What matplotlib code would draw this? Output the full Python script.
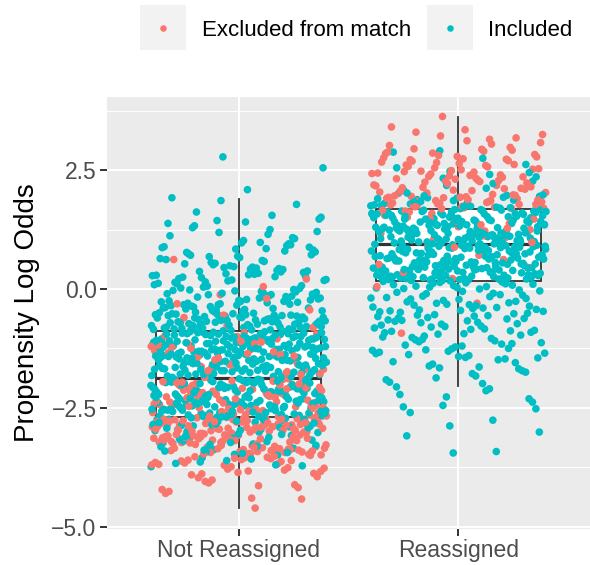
import numpy as np
import matplotlib
matplotlib.use("Agg")
import matplotlib.pyplot as plt
from matplotlib.patches import Rectangle
from matplotlib.lines import Line2D
from matplotlib.ticker import FixedLocator

plt.rcParams['font.family'] = ['Liberation Sans', 'DejaVu Sans']

# ---------------- data ----------------
categories = ["Not Reassigned", "Reassigned"]
groups = ["Excluded from match", "Included"]
group_colors = ["#F8766D", "#00BFC4"]

# Not Reassigned, Included
nr_included = [
    2.78, 2.55, 2.09,
    1.92, 1.55, 1.62, 1.78, 1.86, 1.51,
    1.41, 1.12, 1.25, 1.33, 1.06, 1.19, 1.47, 1.02, 1.38, 1.15, 1.29, 1.08, 1.44, 1.21,
    0.97, 0.62, 0.85, 0.71, 0.93, 0.54, 0.78, 0.66, 0.89, 0.58, 0.74, 0.95, 0.51, 0.82,
    0.69, 0.87, 0.6, 0.77, 0.91, 0.56, 0.72, 0.84, 0.64, 0.98, 0.53, 0.8, 0.68, 0.88,
    0.47, 0.12, 0.33, 0.25, 0.41, 0.06, 0.38, 0.19, 0.29, 0.44, 0.02, 0.36, 0.15, 0.27,
    0.49, 0.09, 0.31, 0.22, 0.43, 0.04, 0.35, 0.17, 0.28, 0.46, 0.11, 0.39, 0.24, 0.07,
    0.32, 0.2, 0.42, 0.14, 0.26, 0.37, 0.01, 0.45, 0.18, 0.3,
    -0.03, -0.41, -0.17, -0.28, -0.09, -0.46, -0.22, -0.35, -0.12, -0.49, -0.06, -0.31,
    -0.19, -0.43, -0.25, -0.14, -0.38, -0.01, -0.33, -0.21, -0.47, -0.1, -0.29, -0.36,
    -0.15, -0.44, -0.07, -0.26, -0.39, -0.18, -0.02, -0.32, -0.48, -0.13, -0.24, -0.4,
    -0.08, -0.3, -0.2, -0.45, -0.11, -0.34, -0.27, -0.05, -0.42, -0.16, -0.37, -0.23,
    -0.04, -0.5, -0.19, -0.33, -0.26, -0.12, -0.4,
    -0.52, -0.61, -0.74, -0.83, -0.56, -0.68, -0.79, -0.87, -0.54, -0.65, -0.71, -0.8,
    -0.58, -0.63, -0.76, -0.85, -0.51, -0.69, -0.72, -0.82, -0.59, -0.66, -0.77, -0.86,
    -0.53, -0.62, -0.73, -0.81, -0.57, -0.67, -0.78, -0.84, -0.55, -0.64, -0.7, -0.88,
    -0.6, -0.75, -0.52, -0.69, -0.83, -0.57, -0.66, -0.79, -0.54, -0.71, -0.86, -0.61,
    -0.74, -0.58, -0.68, -0.81, -0.56, -0.63, -0.77, -0.85, -0.53, -0.72, -0.6, -0.8,
    -0.65, -0.87, -0.55, -0.7, -0.76, -0.59, -0.82, -0.67, -0.73, -0.84,
    -0.91, -1.34, -1.12, -1.67, -0.98, -1.45, -1.23, -1.78, -1.05, -1.56,
    -1.29, -0.94, -1.71, -1.38, -1.15, -1.82, -1.01, -1.49, -1.26, -1.63,
    -0.89, -1.41, -1.19, -1.74, -1.08, -1.52, -1.33, -1.86, -0.96, -1.6,
    -1.22, -1.69, -1.03, -1.47, -1.27, -1.8, -0.93, -1.36, -1.17, -1.58,
    -1.1, -1.43, -1.31, -1.76, -1.0, -1.54, -1.25, -1.65, -0.97, -1.39,
    -1.14, -1.72, -1.06, -1.5, -1.2, -1.84, -0.92, -1.44, -1.28, -1.61,
    -1.04, -1.37, -1.16, -1.79, -0.99, -1.53, -1.24, -1.68, -1.09, -1.42,
    -1.32, -1.75, -0.95, -1.57, -1.21, -1.83, -1.07, -1.46, -1.3, -1.64,
    -1.02, -1.35, -1.18, -1.73, -0.9, -1.51, -1.26, -1.7, -1.11, -1.4,
    -1.33, -1.81, -0.94, -1.59, -1.23, -1.66, -1.05, -1.48, -1.13, -1.77,
    -0.98, -1.37, -1.28, -1.62, -1.01, -1.55, -1.19, -1.85, -1.08, -1.44,
    -1.3, -1.71, -0.93, -1.5, -1.15, -1.67, -1.03, -1.41, -1.25, -1.79,
    -0.96, -1.34, -1.22, -1.58, -1.12, -1.47, -1.36, -1.74, -0.91, -1.63,
    -1.17, -1.82, -1.06, -1.43, -1.27, -1.69, -1.0, -1.52, -1.21, -1.76,
    -0.97, -1.39, -1.31, -1.6, -1.09, -1.45, -1.14, -1.86, -1.04, -1.56,
    -1.24, -1.72, -0.92, -1.38, -1.18, -1.65, -1.07, -1.49, -1.29, -1.8,
    -0.99, -1.42, -1.11, -1.57, -1.02, -1.35, -1.26, -1.73, -0.95, -1.61,
    -1.2, -1.84, -1.1, -1.46, -1.32, -1.68, -0.9, -1.53, -1.16, -1.78,
    -1.05, -1.4, -1.23, -1.64, -0.94, -1.5, -1.28, -1.75, -1.13, -1.44,
    -1.92, -2.35, -2.14, -2.61, -1.98, -2.43, -2.22, -2.68, -2.05, -2.5,
    -2.28, -1.95, -2.57, -2.17, -2.39, -2.02, -2.64, -2.25, -1.9, -2.47,
    -2.11, -2.54, -2.31, -1.97, -2.66, -2.19, -2.42, -2.07, -2.59, -2.26,
    -1.94, -2.37, -2.13, -2.69, -2.03, -2.45, -2.21, -2.56, -1.99, -2.33,
    -2.09, -2.62, -2.29, -1.91, -2.49, -2.16, -2.4, -2.04, -2.67, -2.24,
    -1.96, -2.52, -2.12, -2.36, -2.0, -2.58, -2.27, -1.88, -2.44, -2.18,
    -2.63, -2.08, -2.34, -1.93, -2.55, -2.23, -2.46, -2.01, -2.7, -2.15,
    -2.38, -1.97, -2.6, -2.3, -2.06, -2.48, -2.2, -1.89, -2.53, -2.1,
    -2.65, -2.32, -1.95, -2.41, -2.17, -2.57, -2.02, -2.44, -2.26, -1.92,
    -2.51, -2.13, -2.67, -2.35, -1.99, -2.47, -2.22, -2.61, -2.05, -2.39,
    -1.9, -2.55, -2.19, -2.43, -2.09, -2.64, -2.28, -1.94, -2.5, -2.15,
    -2.36, -2.03, -2.59, -2.24, -1.98, -2.45, -2.11, -2.68, -2.31, -2.07,
    -2.53, -1.96, -2.4, -2.18, -2.62, -2.01, -2.33, -2.56, -2.14, -1.91,
    -2.48, -2.25, -2.66, -2.04, -2.37, -1.93, -2.58, -2.21, -2.42, -2.1,
    -2.69, -2.29, -1.97, -2.52, -2.16, -2.38, -2.06, -2.6, -2.27, -2.46,
    -2.74, -3.12, -2.88, -3.35, -2.79, -3.02, -3.46, -2.93, -3.21, -2.71,
    -3.08, -2.84, -3.29, -2.97, -3.41, -2.76, -3.15, -2.9, -3.38, -2.82,
    -3.05, -3.24, -2.73, -2.99, -3.44, -2.86, -3.18, -2.78, -3.32, -2.95,
    -3.1, -2.72, -3.27, -2.89, -3.48, -2.81, -3.01, -3.2, -2.77, -3.37,
    -2.92, -3.14, -2.75, -3.31, -2.87, -3.06, -3.43, -2.83, -3.23, -2.98,
    -2.8, -3.16, -2.91, -3.39, -2.74, -3.09, -2.85, -3.26, -2.96, -3.49,
    -3.55, -3.72, -3.61, -3.74, -3.58, -3.67, -3.7, -3.64,
]

# Not Reassigned, Excluded from match
nr_excluded = [
    0.62, 0.21, 0.05,
    -0.12, -0.31, -0.44, -0.2,
    -0.55, -0.7, -0.81, -0.63, -0.77, -0.6,
    -0.95, -1.32, -1.6, -1.14, -1.78, -1.05, -1.47, -1.25, -1.69, -1.38,
    -1.0, -1.55, -1.21, -1.83, -1.1, -1.43, -1.3, -1.74, -0.92, -1.63,
    -1.18, -1.51, -1.36, -1.86, -1.07, -1.41, -1.27, -1.72, -0.98, -1.58,
    -1.15, -1.66, -1.34, -1.8, -1.02, -1.49, -1.23, -1.7, -1.12, -1.45,
    -1.91, -2.34, -2.12, -2.58, -2.01, -2.45, -2.23, -2.66, -1.96, -2.39,
    -2.17, -2.52, -2.06, -2.62, -2.28, -1.93, -2.47, -2.14, -2.69, -2.31,
    -2.03, -2.55, -2.2, -2.41, -1.99, -2.6, -2.25, -2.09, -2.5, -2.36,
    -1.89, -2.64, -2.18, -2.43, -2.05, -2.57, -2.3, -1.95, -2.48, -2.11,
    -2.68, -2.27, -2.0, -2.53, -2.15, -2.38, -1.92, -2.61, -2.22, -2.44,
    -2.08, -2.56, -2.33, -1.97, -2.65, -2.19, -2.4, -2.04, -2.51, -2.26,
    -2.7, -2.13, -2.46, -1.94, -2.59, -2.29, -2.07, -2.37, -2.63, -2.16,
    -2.49, -2.02, -2.35, -2.21, -2.67, -1.9, -2.54, -2.24, -2.42, -2.1,
    -2.72, -3.11, -2.89, -3.38, -2.77, -3.05, -3.26, -2.94, -3.47, -2.81,
    -3.17, -2.73, -3.33, -2.98, -3.09, -2.85, -3.42, -2.79, -3.21, -3.01,
    -2.91, -3.36, -2.75, -3.14, -2.87, -3.29, -2.96, -3.45, -2.82, -3.07,
    -3.23, -2.71, -3.4, -2.93, -3.12, -2.78, -3.31, -3.03, -2.88, -3.49,
    -2.84, -3.19, -2.99, -3.35, -2.74, -3.08, -3.27, -2.9, -3.44, -2.8,
    -3.15, -2.95, -3.37, -2.76, -3.04, -3.22, -2.86, -3.46, -2.83, -3.13,
    -2.97, -3.3, -2.72, -3.1, -3.39, -2.92, -3.18, -2.78, -3.43, -3.0,
    -2.88, -3.25, -2.81, -3.34, -2.95, -3.06, -3.48, -2.73, -3.2, -2.86,
    -3.41, -2.99, -3.12, -2.77, -3.32, -2.9, -3.16, -3.02, -2.84, -3.45,
    -2.75, -3.24, -2.93, -3.36, -2.8, -3.09, -3.28, -2.97, -3.42, -2.71,
    -3.14, -2.87, -3.38, -3.04, -2.79, -3.22, -2.91, -3.47, -2.83, -3.11,
    -3.01, -3.33, -2.74, -3.19, -2.96, -3.44, -2.85, -3.07, -3.26, -2.89,
    -3.4, -2.76, -3.15, -2.94, -3.35, -3.0, -2.82, -3.23, -2.98, -3.5,
    -3.54, -3.71, -3.62, -3.88, -3.57, -3.79, -3.66, -3.95, -3.52, -3.74,
    -3.6, -3.84, -3.68, -3.56, -3.91, -3.77, -3.63, -3.86, -3.53, -3.7,
    -3.81, -3.59, -3.97, -3.65, -3.76, -3.55, -3.89, -3.69, -3.61, -3.83,
    -4.05, -4.22, -4.12, -4.4, -4.08, -4.3, -4.18, -4.61, -4.02, -4.26, -4.42, -4.14,
]

# Reassigned, Included
r_included = [
    2.88, 2.62, 2.75, 2.91, 2.55,
    2.45, 2.12, 2.33, 2.05, 2.27, 2.41, 2.18, 2.08, 2.36, 2.22, 2.48, 2.02,
    1.95, 1.72, 1.86, 1.79, 1.98, 1.7, 1.91, 1.83, 1.75, 1.93, 1.69, 1.88, 1.77,
    1.97, 1.73, 1.84, 1.9, 1.71, 1.81, 1.96, 1.76, 1.87, 1.74, 1.92, 1.8,
    1.02, 1.45, 1.23, 1.61, 0.98, 1.37, 1.14, 1.55, 1.28, 1.67,
    1.06, 1.41, 1.19, 1.58, 0.96, 1.33, 1.5, 1.1, 1.26, 1.64,
    1.0, 1.44, 1.17, 1.53, 1.31, 1.08, 1.62, 1.21, 1.39, 0.97,
    1.48, 1.13, 1.35, 1.66, 1.04, 1.25, 1.57, 1.16, 1.42, 0.99,
    1.3, 1.52, 1.07, 1.63, 1.2, 1.38, 1.11, 1.47, 1.27, 1.59,
    1.01, 1.34, 1.55, 1.15, 1.43, 0.95, 1.24, 1.6, 1.09, 1.36,
    1.49, 1.18, 1.65, 1.03, 1.29, 1.4, 1.12, 1.56, 1.22, 0.98,
    1.46, 1.05, 1.32, 1.61, 1.14, 1.51, 1.26, 1.68, 1.0, 1.37,
    1.19, 1.54, 1.08, 1.44, 1.28, 1.63, 0.96, 1.33, 1.17, 1.5,
    1.23, 1.02, 1.41, 1.58, 1.11, 1.35, 1.66, 1.06, 1.45, 1.21,
    0.99, 1.3, 1.53, 1.15, 1.39, 1.62, 1.04, 1.27, 1.48, 1.1,
    1.57, 1.2, 1.34, 0.97, 1.43, 1.16, 1.6, 1.25, 1.07, 1.52,
    1.38, 1.01, 1.64, 1.13, 1.31, 1.47, 1.22, 0.95, 1.56, 1.09,
    1.42, 1.29, 1.67, 1.03, 1.36, 1.18, 1.49, 1.24, 1.59, 1.12,
    0.92, 0.41, 0.68, 0.23, 0.85, 0.52, 0.31, 0.77, 0.19, 0.61,
    0.46, 0.89, 0.27, 0.72, 0.38, 0.94, 0.56, 0.21, 0.65, 0.34,
    0.81, 0.49, 0.25, 0.74, 0.43, 0.9, 0.59, 0.3, 0.69, 0.18,
    0.83, 0.45, 0.63, 0.28, 0.79, 0.53, 0.36, 0.87, 0.22, 0.67,
    0.48, 0.93, 0.33, 0.71, 0.4, 0.58, 0.26, 0.84, 0.55, 0.2,
    0.76, 0.44, 0.91, 0.35, 0.62, 0.29, 0.8, 0.5, 0.24, 0.7,
    0.39, 0.86, 0.57, 0.32, 0.75, 0.47, 0.19, 0.64, 0.88, 0.42,
    0.73, 0.27, 0.54, 0.95, 0.37, 0.66, 0.21, 0.82, 0.51, 0.3,
    0.78, 0.45, 0.6, 0.23, 0.89, 0.35, 0.69, 0.41, 0.92, 0.26,
    0.58, 0.84, 0.33, 0.72, 0.48, 0.18, 0.63, 0.87, 0.38, 0.55,
    0.8, 0.29, 0.67, 0.43, 0.94, 0.52, 0.22, 0.75, 0.36, 0.61,
    0.9, 0.46, 0.24, 0.7, 0.57, 0.85, 0.31, 0.65, 0.4, 0.78,
    0.2, 0.53, 0.91, 0.34, 0.74, 0.49, 0.83, 0.27, 0.62, 0.44,
    0.88, 0.37, 0.59, 0.25, 0.81, 0.5, 0.93, 0.32, 0.68, 0.42,
    0.76, 0.28, 0.56, 0.86, 0.39, 0.71, 0.21, 0.64, 0.47, 0.9,
    0.15, -0.22, 0.06, -0.38, 0.11, -0.05, -0.44, 0.02, -0.29, 0.13,
    -0.15, -0.48, 0.08, -0.33, -0.1, 0.16, -0.26, -0.41, 0.04, -0.18,
    -0.02, -0.35, 0.12, -0.46, -0.13, 0.0, -0.3, 0.09, -0.2, -0.4,
    0.14, -0.07, -0.36, 0.05, -0.24, -0.49, 0.1, -0.16, -0.32, 0.01,
    -0.43, -0.09, 0.17, -0.27, -0.04, -0.39, 0.07, -0.21, -0.47, -0.12,
    0.03, -0.34, -0.19, 0.15, -0.45,
    -0.55, -0.82, -0.63, -0.94, -0.71, -0.58, -0.88, -0.67, -0.99, -0.76,
    -0.52, -0.85, -0.6, -0.92, -0.73, -0.57, -0.8, -0.65, -0.97, -0.7,
    -0.54, -0.89, -0.62, -0.78, -0.95, -0.68, -0.51, -0.84, -0.74, -0.61,
    -0.91, -0.56, -0.79, -0.66, -0.87,
    -1.04, -1.31, -1.18, -1.45, -1.09, -1.26, -1.38, -1.13, -1.49, -1.22,
    -1.02, -1.35, -1.16, -1.42, -1.07, -1.29, -1.47, -1.2, -1.11, -1.36,
    -1.25, -1.44, -1.06, -1.33, -1.15, -1.4, -1.28, -1.01,
    -1.55, -1.78, -1.62, -1.91, -1.68, -1.83, -1.58, -1.96, -1.72, -1.64,
    -1.87, -1.53, -1.75, -1.99, -1.66,
    -2.06, -2.31, -2.14, -2.45, -2.22, -2.38, -2.1, -2.27, -2.48,
    -2.52, -2.76, -2.88, -3.09, -3.01, -3.42, -3.45, -2.6,
]

# Reassigned, Excluded from match
r_excluded = [
    3.63, 3.25, 3.12, 3.41, 3.05, 3.3, 3.18, 3.22, 3.08, 3.35, 3.02, 3.15,
    2.95, 2.62, 2.81, 2.53, 2.74, 2.88, 2.57, 2.69, 2.92, 2.66,
    2.78, 2.51, 2.85, 2.6, 2.72, 2.98, 2.55, 2.83, 2.64, 2.76,
    2.9, 2.58, 2.7, 2.86, 2.52, 2.79, 2.67, 2.94, 2.61, 2.73,
    2.42, 2.15, 2.31, 2.04, 2.26, 2.47, 2.11, 2.37, 2.2, 2.08,
    2.44, 2.29, 2.13, 2.35, 2.02, 2.23, 2.49, 2.17, 2.33, 2.06,
    2.4, 2.25, 2.1, 2.38, 2.19, 2.46, 2.01, 2.28, 2.14, 2.36,
    2.22, 2.43, 2.07, 2.32, 2.18, 2.48, 2.12, 2.27, 2.03, 2.39,
    1.96, 1.72, 1.85, 1.78, 1.92, 1.7, 1.88, 1.81, 1.99, 1.75,
    1.9, 1.69, 1.83, 1.94, 1.77, 1.86, 1.73, 1.97, 1.8, 1.89,
    1.71, 1.93, 1.84, 1.76, 1.98, 1.79, 1.87, 1.74, 1.91, 1.82,
    1.95, 1.7, 1.86, 1.78, 1.93,
    1.55, 1.22, 1.62, 1.38, 1.05, 1.47, 1.31, 1.66, 1.12, 1.51,
    1.28, 1.59, 0.98, 1.43, 1.17, 1.35, 1.64, 1.08, 1.49, 1.25,
    0.88, 0.52, 0.71, 0.35, 0.62, 0.9, 0.45, 0.22,
    0.05, -0.3, -0.93,
]

# Box-plot summary (whisker low, Q1, median, Q3, whisker high)
box_whislo = [-4.61, -2.04]
box_q1 = [-2.70, 0.175]
box_med = [-1.87, 0.95]
box_q3 = [-0.88, 1.68]
box_whishi = [1.89, 3.61]

y_ticks = [-5.0, -2.5, 0.0, 2.5]
y_tick_labels = ["\u22125.0", "\u22122.5", "0.0", "2.5"]
y_minor = [-3.75, -1.25, 1.25, 3.75]

# ---------------- figure ----------------
W, H = 590, 565
fig = plt.figure(figsize=(W / 100, H / 100), dpi=100)
fig.patch.set_facecolor("white")
ax = fig.add_axes([107 / W, 1 - 529 / H, (590 - 107) / W, (529 - 97) / H])
ax.set_facecolor("#EBEBEB")
for s in ax.spines.values():
    s.set_visible(False)

positions = [1, 2]

# boxplots (under the points, white fill)
stats = []
for i in range(2):
    stats.append(dict(whislo=box_whislo[i], q1=box_q1[i], med=box_med[i],
                      q3=box_q3[i], whishi=box_whishi[i], fliers=[]))
edge = "#333333"
ax.bxp(stats, positions=positions, widths=0.75, patch_artist=True,
       showcaps=False, showfliers=False, manage_ticks=False,
       boxprops=dict(facecolor="white", edgecolor=edge, linewidth=1.3),
       whiskerprops=dict(color=edge, linewidth=1.3),
       medianprops=dict(color=edge, linewidth=2.3, solid_capstyle="butt"),
       zorder=2)

# jittered points
def jitter(n, a, c):
    i = np.arange(n)
    return ((i * a + c) % 1.0 - 0.5) * 0.8

point_sets = [
    [(nr_excluded, 0), (nr_included, 1)],
    [(r_excluded, 0), (r_included, 1)],
]
mults = [(0.7548776662, 0.13), (0.5698402910, 0.41)]
for ci, sets in enumerate(point_sets):
    xs, ys, cs = [], [], []
    for k, (vals, g) in enumerate(sets):
        v = np.asarray(vals, dtype=float)
        a, c = mults[(k + ci) % 2]
        xs.append(positions[ci] + jitter(len(v), a, c))
        ys.append(v)
        cs += [group_colors[g]] * len(v)
    xs = np.concatenate(xs)
    ys = np.concatenate(ys)
    cs = np.array(cs)
    n = len(xs)
    order = np.argsort((np.arange(n) * 0.6180339887 + 0.27) % 1.0)
    ax.scatter(xs[order], ys[order], s=30, c=cs[order], linewidths=0, zorder=3)

ax.set_xlim(0.4, 2.6)
ax.set_ylim(-5.05, 4.04)
ax.set_xticks(positions)
ax.set_xticklabels(categories)
ax.set_yticks(y_ticks)
ax.set_yticklabels(y_tick_labels)
ax.yaxis.set_minor_locator(FixedLocator(y_minor))
ax.set_axisbelow(True)
ax.grid(which="major", color="white", linewidth=1.4)
ax.grid(which="minor", axis="y", color="white", linewidth=0.7)
ax.tick_params(which="major", length=5, width=1.4, color="#333333",
               labelcolor="#4D4D4D", labelsize=16.5, pad=2.5)
ax.tick_params(which="minor", length=0)
ax.set_ylabel("Propensity Log Odds", fontsize=20, color="black", labelpad=8)

# legend (top, horizontal, ggplot style keys)
def fx(px):
    return px / W

def fy(py):
    return 1 - py / H

legend_items = [(140, 202, 0), (427, 488, 1)]
for key_x, text_x, g in legend_items:
    fig.patches.append(Rectangle((fx(key_x), fy(50)), 46 / W, 45 / H,
                                 transform=fig.transFigure, facecolor="#F2F2F2",
                                 edgecolor="none"))
    fig.add_artist(Line2D([fx(key_x + 23)], [fy(27.5)], marker="o", markersize=4.7,
                          markeredgewidth=0, color=group_colors[g], linestyle="none",
                          transform=fig.transFigure))
    fig.text(fx(text_x), fy(36), groups[g], fontsize=16, color="black",
             ha="left", va="baseline")

fig.savefig("out.png", dpi=100)
